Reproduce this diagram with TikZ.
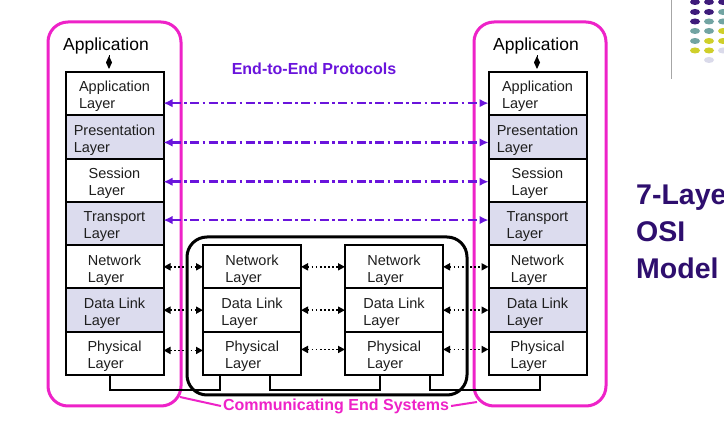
\documentclass[tikz,border=0pt]{standalone}
\usepackage{fontspec}
\setmainfont{Liberation Sans}
\usetikzlibrary{arrows.meta}
\usetikzlibrary{positioning}

\definecolor{shade}{HTML}{DCDCEE}
\definecolor{layertext}{HTML}{1E1E1E}
\definecolor{protopurple}{HTML}{6A14DC}
\definecolor{endpink}{HTML}{EE22C8}
\definecolor{titlepurple}{HTML}{2E0E6E}
\definecolor{dotpurple}{HTML}{3E1B7A}
\definecolor{dotteal}{HTML}{72A4A2}
\definecolor{dotyellow}{HTML}{CFCF2A}
\definecolor{dotlav}{HTML}{DADAEA}

\begin{document}
\begin{tikzpicture}[x=1pt,y=-1pt,
  layertxt/.style={align=left,inner sep=0pt,yshift=-3pt,text=layertext,font=\fontsize{14.5}{17}\selectfont},
  layer/.style={draw,line width=2pt,fill=white,minimum width=98pt,minimum height=43.3pt,outer sep=0pt,inner sep=0pt,label={[layertxt]center:{#1}}},
  shaded/.style={layer=#1,fill=shade},
  apptitle/.style={inner sep=1pt,font=\fontsize{17.5}{20}\selectfont},
  applink/.style={line width=1pt,-{Diamond[length=13pt,width=6pt]},shorten >=3pt},
  peer/.style={line width=1.7pt,dash pattern=on 1.7pt off 2.4pt,{Triangle[length=7pt,width=7pt]}-{Triangle[length=7pt,width=7pt]}},
  proto/.style={protopurple,line width=2.6pt,dash pattern=on 9pt off 3.5pt on 2.5pt off 3.5pt,{Latex[length=9pt,width=8.5pt]}-{Latex[length=9pt,width=8.5pt]}},
  wire/.style={line width=2pt},
  sysbox/.style={draw=endpink,line width=3pt,rounded corners=20pt,minimum width=133pt,minimum height=384pt,inner sep=0pt,outer sep=0pt},
  routerbox/.style={draw,line width=3pt,rounded corners=20pt,minimum width=280pt,minimum height=158pt,inner sep=0pt,outer sep=0pt},
  ]
  \clip (0,0) rectangle (724,438);
  \fill[white] (0,0) rectangle (724,438);

  % end systems and the relay box
  \node[sysbox] (lsys) at (114.5,214) {};
  \node[sysbox,minimum width=132pt] (rsys) at (540,214) {};
  \node[routerbox] (relay) at (327,316) {};

  % left stack
  \node[layer=Application\\Layer] (lapp) at (114.5,93.65) {};
  \node[shaded=Presentation\\Layer,below=0pt of lapp] (lpre) {};
  \node[layer=Session\\Layer,below=0pt of lpre] (lses) {};
  \node[shaded=Transport\\Layer,below=0pt of lses] (ltra) {};
  \node[layer=Network\\Layer,below=0pt of ltra] (lnet) {};
  \node[shaded=Data Link\\Layer,below=0pt of lnet] (ldat) {};
  \node[layer=Physical\\Layer,below=0pt of ldat] (lphy) {};

  % right stack
  \node[layer=Application\\Layer] (rapp) at (537.5,93.65) {};
  \node[shaded=Presentation\\Layer,below=0pt of rapp] (rpre) {};
  \node[layer=Session\\Layer,below=0pt of rpre] (rses) {};
  \node[shaded=Transport\\Layer,below=0pt of rses] (rtra) {};
  \node[layer=Network\\Layer,below=0pt of rtra] (rnet) {};
  \node[shaded=Data Link\\Layer,below=0pt of rnet] (rdat) {};
  \node[layer=Physical\\Layer,below=0pt of rdat] (rphy) {};

  % the two relays
  \node[layer=Network\\Layer,right=39.5pt of lnet] (anet) {};
  \node[layer=Data Link\\Layer,below=0pt of anet] (adat) {};
  \node[layer=Physical\\Layer,below=0pt of adat] (aphy) {};
  \node[layer=Network\\Layer,right=44pt of anet] (bnet) {};
  \node[layer=Data Link\\Layer,below=0pt of bnet] (bdat) {};
  \node[layer=Physical\\Layer,below=0pt of bdat] (bphy) {};

  \node[apptitle] (ltitle) at (106,46) {Application};
  \node[apptitle] (rtitle) at (536,46) {Application};
  \draw[applink] ([xshift=3pt]ltitle.south) -- ([xshift=3pt]ltitle.south |- lapp.north);
  \draw[applink] ([xshift=1pt]rtitle.south) -- ([xshift=1pt]rtitle.south |- rapp.north);

  \node[font=\fontsize{16}{19}\selectfont\bfseries,text=protopurple] (e2e) at (314,69) {End-to-End Protocols};
  \draw[proto] ([yshift=-9.5pt]lapp.east) -- ([yshift=-9.5pt]rapp.west);
  \draw[proto] ([yshift=-5.5pt]lpre.east) -- ([yshift=-5.5pt]rpre.west);
  \draw[proto] ([yshift=-1.5pt]lses.east) -- ([yshift=-1.5pt]rses.west);
  \draw[proto] ([yshift=3.5pt]ltra.east) -- ([yshift=3.5pt]rtra.west);

  \draw[peer](lnet)--(anet);
  \draw[peer](ldat)--(adat);
  \draw[peer]([yshift=3pt]lphy.east)--([yshift=3pt]aphy.west);
  \draw[peer](anet)--(bnet);
  \draw[peer](adat)--(bdat);
  \draw[peer]([yshift=4pt]aphy.east)--([yshift=4pt]bphy.west);
  \draw[peer](bnet)--(rnet);
  \draw[peer](bdat)--(rdat);
  \draw[peer]([yshift=4pt]bphy.east)--([yshift=4pt]rphy.west);

  \draw[wire] ([xshift=-4.5pt]lphy.south) -- ++(0,15) -| ([xshift=-32pt]aphy.south);
  \draw[wire] ([xshift=18pt]aphy.south) -- ++(0,15) -| ([xshift=-14pt]bphy.south);
  \draw[wire] ([xshift=36pt]bphy.south) -- ++(0,15) -| ([xshift=2.5pt]rphy.south);

  \node[font=\fontsize{16}{19}\selectfont\bfseries,text=endpink,inner sep=2pt] (comm) at (336,406) {Communicating End Systems};
  \draw[endpink,line width=2pt] (comm.west) -- ([shift={(-1,-9)}]lsys.south east);
  \draw[endpink,line width=2pt] (comm.east) -- ([shift={(3,-4)}]rsys.south west);

  \node[font=\fontsize{28.5}{37}\selectfont\bfseries,text=titlepurple,align=left,anchor=west,inner sep=0pt] (osi) at (636,232) {7-Layer\\OSI\\Model};

  % slide decoration
  \draw[gray!70,line width=1pt] (671,0) -- (671,79);
  \fill[dotpurple] (695,2) ellipse (5 and 3) (709,2) ellipse (5 and 3) (723,2) ellipse (5 and 3)
    (695,12) ellipse (5 and 3) (709,12) ellipse (5 and 3) (695,21.5) ellipse (5 and 3);
  \fill[dotteal] (723,12) ellipse (5 and 3) (709,21.5) ellipse (5 and 3) (723,21.5) ellipse (5 and 3)
    (695,31) ellipse (5 and 3) (709,31) ellipse (5 and 3) (695,41) ellipse (5 and 3);
  \fill[dotyellow] (723,31) ellipse (5 and 3) (709,41) ellipse (5 and 3) (723,41) ellipse (5 and 3)
    (695,50.5) ellipse (5 and 3) (709,50.5) ellipse (5 and 3);
  \fill[dotlav] (723,50.5) ellipse (5 and 3) (709,60) ellipse (5 and 3);
\end{tikzpicture}
\end{document}
